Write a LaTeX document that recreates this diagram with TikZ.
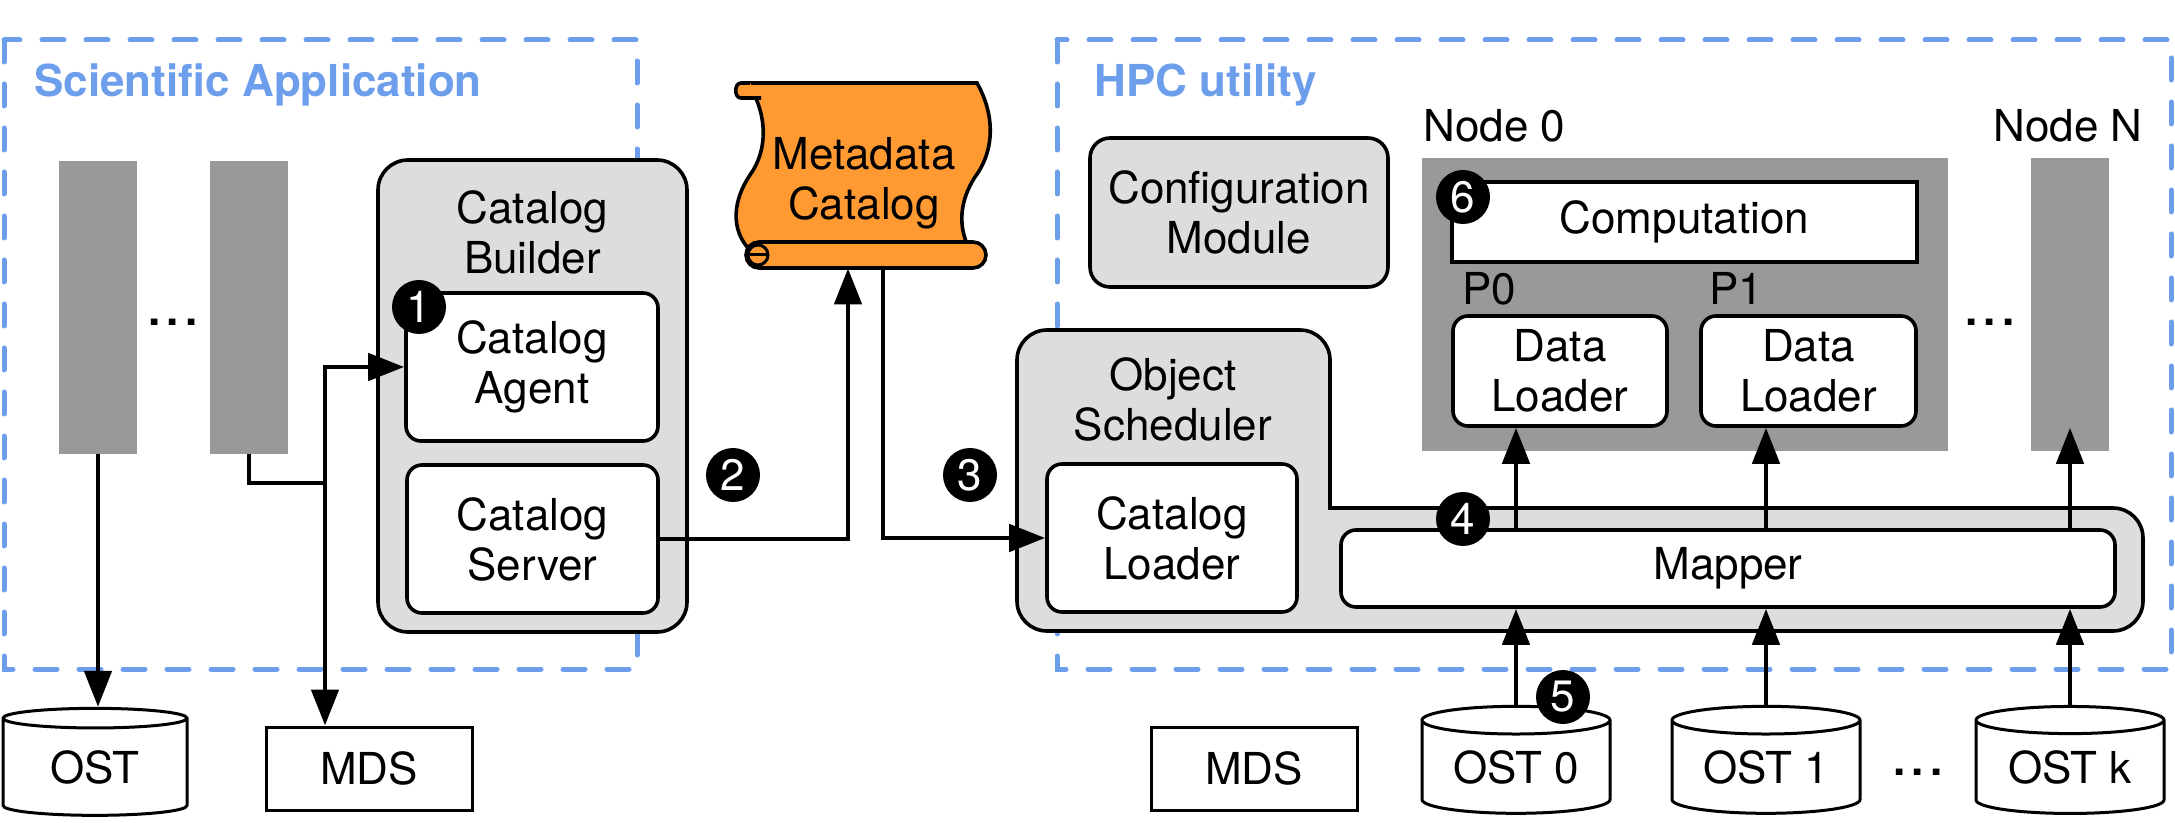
\documentclass[tikz,border=0pt]{standalone}
\usepackage{fontspec}
\setmainfont{TeX Gyre Heros}
\usetikzlibrary{arrows.meta,shapes.geometric}
\definecolor{appblue}{HTML}{6D9EEB}
\definecolor{boxgray}{HTML}{DDDDDD}
\definecolor{nodegray}{HTML}{999999}
\definecolor{scrollorange}{HTML}{FF9A33}

\begin{document}
\begin{tikzpicture}[x=0.5pt, y=-0.5pt, >={Triangle[length=18pt,width=13.5pt]},
    font=\fontsize{22}{25}\selectfont,
    regionbox/.style={draw=appblue, line width=2.5pt, dash pattern=on 11pt off 11pt, line cap=round},
    regiontitle/.style={anchor=base west, inner sep=0pt, text=appblue, font=\fontsize{22}{25}\selectfont\bfseries},
    groupbox/.style={draw, line width=1.8pt, fill=boxgray, rounded corners=15pt, inner sep=0pt},
    subbox/.style={draw, line width=1.8pt, fill=white, rounded corners=7.5pt, inner sep=0pt, align=center},
    nodebar/.style={fill=nodegray, inner sep=0pt, minimum width=39pt, minimum height=146.5pt},
    storecyl/.style={draw, line width=1.5pt, fill=white, cylinder, shape border rotate=90, aspect=0.22,
        minimum width=94pt, minimum height=53.5pt, inner sep=0pt},
    mdsbox/.style={draw, line width=1.5pt, fill=white, inner sep=0pt, minimum width=103pt, minimum height=41.5pt},
    badge/.style={circle, fill=black, text=white, inner sep=0pt, minimum size=27pt},
    link/.style={->, line width=2.4pt},
    dots/.style={anchor=base, inner sep=0pt, font=\fontsize{22}{25}\selectfont\bfseries}]
    % 1. Picture frame
    \useasboundingbox (0,0) rectangle (2175,823);

    % 2. Dashed regions
    \draw[regionbox] (4,40) rectangle (637,669);
    \draw[regionbox] (1057,40) rectangle (2171,669);
    \node[regiontitle] (apptitle) at (34,97) {Scientific Application};
    \node[regiontitle] (hpctitle) at (1094,97) {HPC utility};

    % 3. Application processes
    \node[nodebar] (bar1) at (98,307.5) {};
    \node[nodebar] (bar2) at (249,307.5) {};
    \node[dots] (dotsL) at (173,326) {.\kern3pt.\kern3pt.};

    % 4. Catalog builder
    \node[groupbox, minimum width=154.5pt, minimum height=236pt] (builder) at (532.5,396) {};
    \node[align=center] (buildertitle) at (532.5,232) {Catalog\\Builder};
    \node[subbox, minimum width=126pt, minimum height=74pt] (agent) at (532,367) {Catalog\\Agent};
    \node[subbox, minimum width=125.5pt, minimum height=74pt] (server) at (532.5,539) {Catalog\\Server};

    % 5. Metadata catalog scroll
    \node[minimum width=125pt, minimum height=92.5pt, inner sep=0pt] (meta) at (862,175.5) {};
    \draw[line width=1.8pt, fill=scrollorange] (748,83) -- (977,83)
        .. controls (995,115) and (995,150) .. (975,177)
        .. controls (960,200) and (958,225) .. (968,246) -- (750,250)
        .. controls (730,230) and (733,200) .. (750,175)
        .. controls (768,150) and (768,115) .. cycle;
    \draw[line width=1.8pt, fill=scrollorange] (750,83) -- (741,83)
        .. controls (734,83) and (734,98) .. (741,98) -- (761,98);
    \draw[line width=1.8pt, fill=scrollorange, rounded corners=6.5pt] (746,242) rectangle (986,268);
    \draw[line width=1.5pt] (758,255) circle (5pt);
    \draw[line width=1.5pt] (748,255) -- (768,255);
    \node[align=center] (metatext) at (864,183) {Metadata\\Catalog};

    % 6. Object scheduler with mapper
    \draw[line width=1.8pt, fill=boxgray, rounded corners=15pt] (1017,480) -- (1017,330) -- (1330,330)
        [sharp corners] -- (1330,508) [rounded corners=15pt] -- (2143,508) -- (2143,631) -- (1017,631) -- cycle;
    \node[align=center] (schedtitle) at (1173,399) {Object\\Scheduler};
    \node[subbox, minimum width=125pt, minimum height=74pt] (loader) at (1172,538) {Catalog\\Loader};
    \node[subbox, minimum width=387pt, minimum height=38.5pt] (mapper) at (1728,568.5) {Mapper};

    % 7. Configuration module and compute nodes
    \node[groupbox, rounded corners=10pt, minimum width=149pt, minimum height=74.5pt, align=center]
        (config) at (1239,212.5) {Configuration\\Module};
    \node[fill=nodegray, inner sep=0pt, minimum width=263pt, minimum height=146.5pt] (node0) at (1685,304.5) {};
    \node[anchor=base west, inner sep=0pt] (node0label) at (1423,142) {Node 0};
    \node[nodebar] (nodeN) at (2070,304.5) {};
    \node[anchor=base west, inner sep=0pt] (nodeNlabel) at (1993,142) {Node N};
    \node[dots] (dotsR) at (1990,326) {.\kern3pt.\kern3pt.};
    \node[draw, line width=1.8pt, fill=white, inner sep=0pt, minimum width=232.5pt, minimum height=40pt]
        (comp) at (1684.5,222) {Computation};
    \node[anchor=base west, inner sep=0pt] (p0) at (1462,305) {P0};
    \node[anchor=base west, inner sep=0pt] (p1) at (1709,305) {P1};
    \node[subbox, minimum width=107pt, minimum height=55pt] (dl0) at (1560,371) {Data\\Loader};
    \node[subbox, minimum width=107.5pt, minimum height=55pt] (dl1) at (1808.5,371) {Data\\Loader};

    % 8. Storage targets
    \node[storecyl, minimum width=92pt] (ost) at (95,767.5) {OST};
    \node[mdsbox] (mdsL) at (369,768.5) {MDS};
    \node[mdsbox] (mdsR) at (1254,768.5) {MDS};
    \node[storecyl] (ost0) at (1516,767.5) {OST 0};
    \node[storecyl] (ost1) at (1766,767.5) {OST 1};
    \node[storecyl] (ostk) at (2070,767.5) {OST k};
    \node[dots] (dotsB) at (1918,775) {.\kern3pt.\kern3pt.};

    % 9. Connectors
    \coordinate (fork) at (325,483);
    \draw[link] (bar1.south) -- (bar1.south |- ost.north);
    \draw[line width=2.4pt] (bar2.south) |- (fork);
    \draw[link, <->] (agent.west) -| (fork |- mdsL.north);
    \draw[link] (server.east) -| ([xshift=-7pt]meta.south);
    \draw[link] ([xshift=10.5pt]meta.south) |- (loader.west);
    \foreach \s in {ost0,ost1,ostk} {
        \draw[link] (\s.north) -- (\s.north |- mapper.south);
        \draw[link] (\s.north |- mapper.north) -- (\s.north |- dl0.south);
    }

    % 10. Step badges
    \node[badge] (b1) at (419,307) {1};
    \node[badge] (b2) at (733,475) {2};
    \node[badge] (b3) at (970,475) {3};
    \node[badge] (b4) at (1463,519) {4};
    \node[badge] (b5) at (1563,697) {5};
    \node[badge] (b6) at (1463,197) {6};
\end{tikzpicture}
\end{document}
